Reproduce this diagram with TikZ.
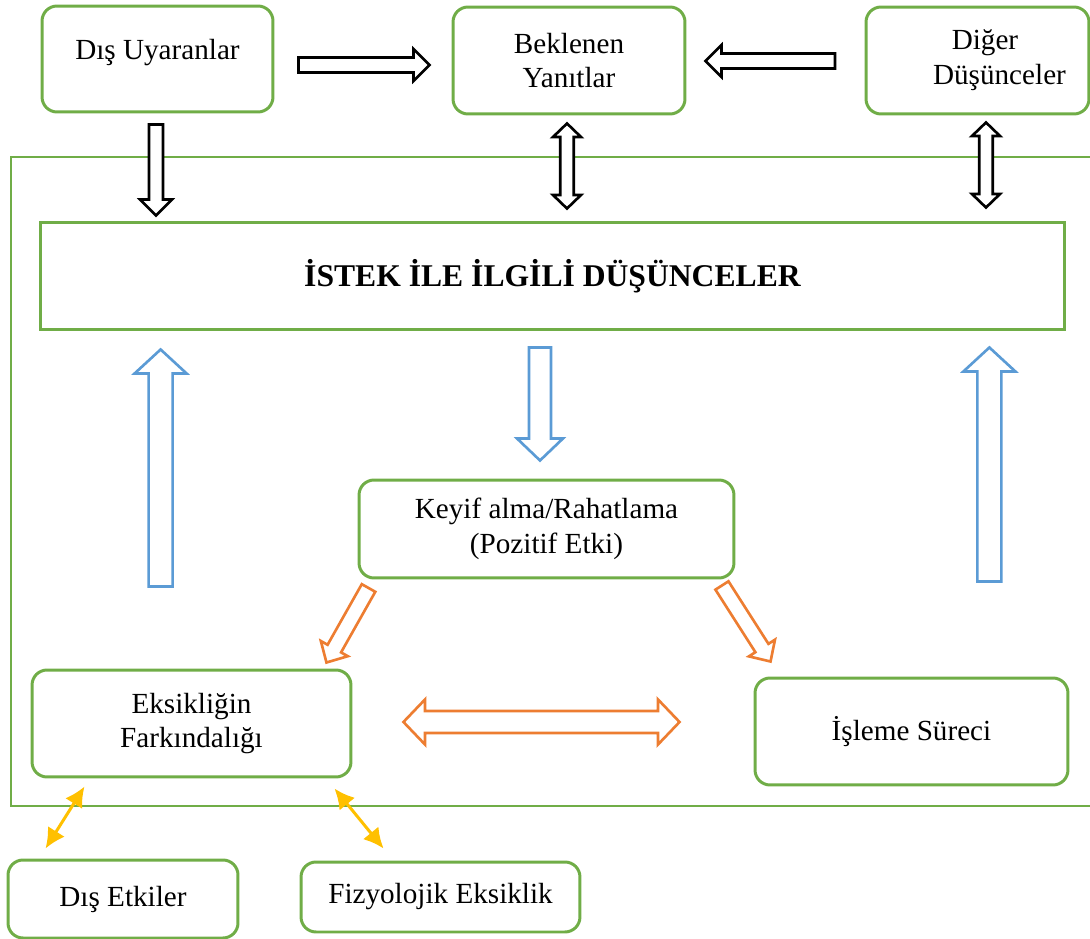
\documentclass[tikz,border=0pt]{standalone}
\usepackage{fontspec}
\setmainfont{Liberation Serif}
\usepackage{xcolor}
\usetikzlibrary{calc,arrows.meta,positioning}
\definecolor{BoxGreen}{RGB}{112, 173, 71}
\definecolor{FlowBlue}{RGB}{91, 155, 213}
\definecolor{FlowOrange}{RGB}{237, 125, 49}
\definecolor{LinkYellow}{RGB}{255, 192, 0}

% block arrow: [style]{tail}{tip}{shaft half width}{head half width}{head length}
\newcommand{\fatarrow}[6][]{%
  \coordinate (fa-n) at ($(#3)!#6!(#2)$);
  \draw[#1] ($(#2)!#4!90:(#3)$) -- ($(fa-n)!#4!90:(#3)$) -- ($(fa-n)!#5!90:(#3)$)
    -- (#3) -- ($(fa-n)!#5!-90:(#3)$) -- ($(fa-n)!#4!-90:(#3)$) -- ($(#2)!#4!-90:(#3)$) -- cycle;}
% block arrow with two heads
\newcommand{\fatdarrow}[6][]{%
  \coordinate (fa-a) at ($(#2)!#6!(#3)$);
  \coordinate (fa-b) at ($(#3)!#6!(#2)$);
  \draw[#1] (#2) -- ($(fa-a)!#5!90:(#3)$) -- ($(fa-a)!#4!90:(#3)$) -- ($(fa-b)!#4!-90:(#2)$)
    -- ($(fa-b)!#5!-90:(#2)$) -- (#3) -- ($(fa-b)!#5!90:(#2)$) -- ($(fa-b)!#4!90:(#2)$)
    -- ($(fa-a)!#4!-90:(#3)$) -- ($(fa-a)!#5!-90:(#3)$) -- cycle;}

\begin{document}
\begin{tikzpicture}[
    x=0.02cm, y=-0.02cm,
    box/.style={draw=BoxGreen, line width=1.7pt, rounded corners=0.3cm, align=center,
      font=\fontsize{16.6}{19.8}\selectfont, inner sep=2pt},
    blk/.style={draw=black, fill=white, line width=1.5pt},
    bluearr/.style={draw=FlowBlue, fill=white, line width=1.5pt},
    orarr/.style={draw=FlowOrange, fill=white, line width=1.5pt},
    link/.style={{Latex[length=4mm,width=4mm]}-{Latex[length=4mm,width=4mm]}, LinkYellow, line width=1.7pt}
]
    \useasboundingbox (0,0) rectangle (1090,939);

    % outer frame, open to the right
    \draw[BoxGreen, line width=1.7pt] (1095,157) -| (11,806) -- (1095,806);

    \node[box, minimum width=4.62cm, minimum height=2.12cm, text depth=10.4pt] (uyaran) at (157.5,59) {Dış Uyaranlar};
    \node[box, minimum width=4.64cm, minimum height=2.14cm] (beklenen) at (569,60.5) {Beklenen\\Yanıtlar};
    \node[box, minimum width=4.46cm, minimum height=2.14cm] (diger) at (977.5,60.5) {\hspace*{0.3cm}Diğer\\\hspace*{0.88cm}Düşünceler};
    \node[box, rounded corners=0pt, minimum width=20.5cm, minimum height=2.16cm,
      font=\bfseries\fontsize{18}{21}\selectfont] (istek) at (552.5,276) {İSTEK İLE İLGİLİ DÜŞÜNCELER};
    \node[box, minimum width=7.5cm, minimum height=1.96cm] (keyif) at (546.5,529) {Keyif alma/Rahatlama\\(Pozitif Etki)};
    \node[box, minimum width=6.38cm, minimum height=2.14cm] (eksik) at (191.5,723.5) {Eksikliğin\\Farkındalığı};
    \node[box, minimum width=6.26cm, minimum height=2.14cm] (isleme) at (911.5,731.5) {İşleme Süreci};
    \node[box, minimum width=4.6cm, minimum height=1.56cm] (etkiler) at (123,899) {Dış Etkiler};
    \node[box, minimum width=5.58cm, minimum height=1.4cm] (fizyo) at (440.5,897) {Fizyolojik Eksiklik};

    % black block arrows
    \coordinate (u1) at ($(uyaran.east)+(24,6)$);
    \coordinate (u2) at ($(beklenen.west)+(-22,4.5)$);
    \fatarrow[blk]{u1}{u2}{0.15cm}{0.32cm}{0.32cm}
    \coordinate (d1) at ($(diger.west)+(-29.5,0.5)$);
    \coordinate (d2) at ($(beklenen.east)+(19,0.5)$);
    \fatarrow[blk]{d1}{d2}{0.15cm}{0.32cm}{0.32cm}
    \coordinate (u3) at ($(uyaran.south)+(-1.5,11)$);
    \coordinate (u4) at ($(uyaran.south |- istek.north)+(-1.5,-5)$);
    \fatarrow[blk]{u3}{u4}{0.14cm}{0.32cm}{0.32cm}
    \coordinate (b1) at ($(beklenen.south)+(-2,8)$);
    \coordinate (b2) at ($(beklenen.south |- istek.north)+(-2,-12)$);
    \fatdarrow[blk]{b1}{b2}{0.135cm}{0.28cm}{0.27cm}
    \coordinate (g1) at ($(diger.south)+(8.5,7)$);
    \coordinate (g2) at ($(diger.south |- istek.north)+(8.5,-13)$);
    \fatdarrow[blk]{g1}{g2}{0.135cm}{0.28cm}{0.27cm}

    % blue block arrows
    \coordinate (l2) at ($(istek.south west)+(122,18)$);
    \coordinate (l1) at ($(l2)+(0,237)$);
    \fatarrow[bluearr]{l1}{l2}{0.24cm}{0.52cm}{0.48cm}
    \coordinate (m1) at ($(istek.south)+(-12.5,16)$);
    \coordinate (m2) at ($(m1)+(0,113)$);
    \fatarrow[bluearr]{m1}{m2}{0.22cm}{0.46cm}{0.44cm}
    \coordinate (r2) at ($(istek.south east)+(-77,16)$);
    \coordinate (r1) at ($(r2)+(0,234)$);
    \fatarrow[bluearr]{r1}{r2}{0.24cm}{0.52cm}{0.48cm}

    % orange block arrows
    \coordinate (k1) at ($(keyif.south west)+(11,8.5)$);
    \coordinate (k2) at ($(eksik.north east)+(-26,-6)$);
    \fatarrow[orarr]{k1}{k2}{0.155cm}{0.31cm}{0.32cm}
    \coordinate (k3) at ($(keyif.south east)+(-13.5,6)$);
    \coordinate (k4) at ($(isleme.north west)+(17,-15)$);
    \fatarrow[orarr]{k3}{k4}{0.155cm}{0.31cm}{0.32cm}
    \coordinate (e1) at ($(eksik.east)+(51,-1.5)$);
    \coordinate (e2) at ($(isleme.west)+(-74,-9.5)$);
    \fatdarrow[orarr]{e1}{e2}{0.22cm}{0.45cm}{0.43cm}

    % yellow links
    \draw[link] ($(eksik.south west)+(54,8)$) -- ($(etkiler.north west)+(39,-10)$);
    \draw[link] ($(eksik.south east)+(-18,10)$) -- ($(fizyo.north west)+(84,-12)$);
\end{tikzpicture}
\end{document}
